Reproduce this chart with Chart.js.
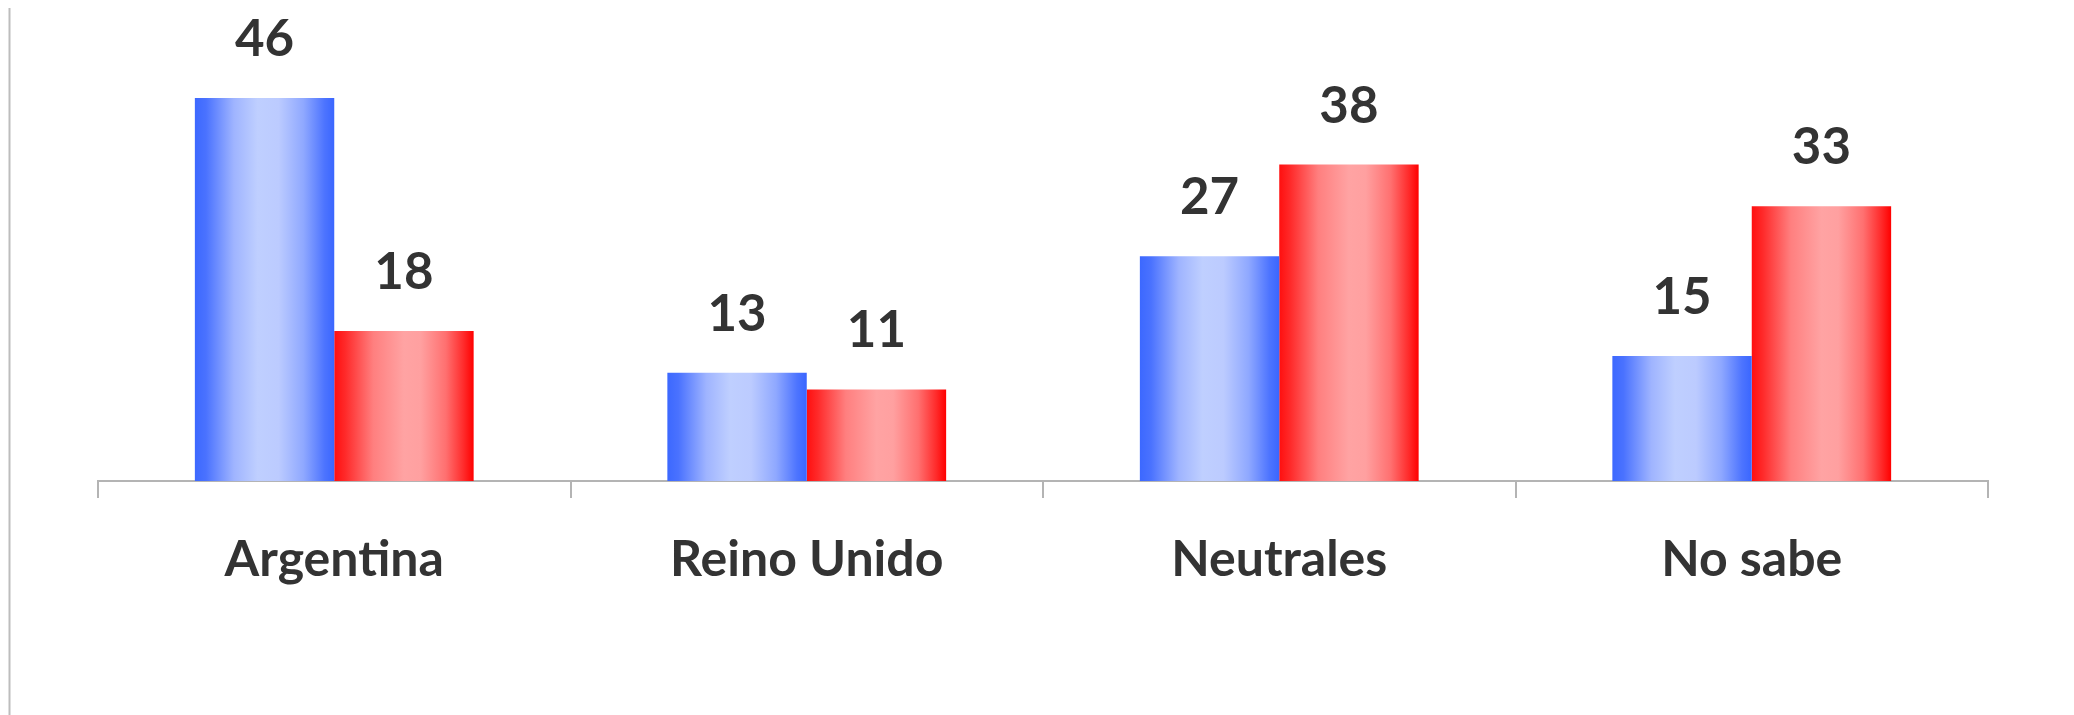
<!DOCTYPE html>
<html>
<head>
<meta charset="utf-8">
<script src="https://cdn.jsdelivr.net/npm/chart.js@4"></script>
<style>
  html, body { margin: 0; padding: 0; background: #ffffff; }
  #wrap { width: 2074px; height: 715px; }
</style>
</head>
<body>
<div id="wrap"><canvas id="chart" width="2074" height="715"></canvas></div>
<script>
// Data
const categories = ['Argentina', 'Reino Unido', 'Neutrales', 'No sabe'];
const blueValues = [46, 13, 27, 15];
const redValues = [18, 11, 38, 33];

const catPct = 0.59;
const textColor = '#333333';
const fontFamily = 'Lato, "Open Sans", sans-serif';

// horizontal "cylinder" gradient across each bar
function barGradient(stops) {
    return function(ctx) {
        const chart = ctx.chart;
        const x = chart.scales && chart.scales.x;
        if (!x || ctx.dataIndex === undefined) return stops[0][1];
        const center = x.getPixelForValue(ctx.dataIndex);
        const total = (x.width / categories.length) * catPct;
        const barW = total / 2;
        const left = center - total / 2 + ctx.datasetIndex * barW;
        if (!isFinite(left) || !isFinite(barW) || barW <= 0) return stops[0][1];
        const g = chart.ctx.createLinearGradient(left, 0, left + barW, 0);
        stops.forEach(s => g.addColorStop(s[0], s[1]));
        return g;
    };
}

const blueStops = [[0, '#3c68ff'], [0.08, '#4a72ff'], [0.28, '#9fb4ff'], [0.45, '#bfcfff'], [0.6, '#bccbff'], [0.78, '#8fa8ff'], [0.93, '#4d74ff'], [1, '#3a66ff']];
const redStops = [[0, '#ff0f0f'], [0.08, '#ff2a2a'], [0.28, '#ff7f7f'], [0.5, '#ffa3a3'], [0.62, '#ffa0a0'], [0.8, '#ff7070'], [0.93, '#ff2a2a'], [1, '#ff0000']];

const valueLabels = {
    id: 'valueLabels',
    afterDatasetsDraw(chart) {
        const c = chart.ctx;
        c.save();
        c.fillStyle = textColor;
        c.font = 'bold 51px ' + fontFamily;
        c.textAlign = 'center';
        c.textBaseline = 'alphabetic';
        chart.data.datasets.forEach((ds, di) => {
            chart.getDatasetMeta(di).data.forEach((el, i) => {
                c.fillText(String(ds.data[i]), el.x, el.y - 42);
            });
        });
        c.restore();
    }
};

const frameLine = {
    id: 'frameLine',
    beforeDraw(chart) {
        const c = chart.ctx;
        c.save();
        c.fillStyle = '#ffffff';
        c.fillRect(0, 0, chart.width, chart.height);
        c.strokeStyle = '#bdbdbd';
        c.lineWidth = 2;
        c.beginPath();
        c.moveTo(9.5, 8);
        c.lineTo(9.5, chart.height);
        c.stroke();
        c.restore();
    }
};

new Chart(document.getElementById('chart'), {
    type: 'bar',
    data: {
        labels: categories,
        datasets: [{
            label: 'Azul',
            data: blueValues,
            backgroundColor: barGradient(blueStops),
            borderWidth: 0
        }, {
            label: 'Rojo',
            data: redValues,
            backgroundColor: barGradient(redStops),
            borderWidth: 0
        }]
    },
    options: {
        responsive: false,
        animation: false,
        layout: {
            padding: { left: 98, right: 86, top: 23, bottom: 93 }
        },
        categoryPercentage: catPct,
        barPercentage: 1.0,
        plugins: {
            legend: { display: false },
            tooltip: { enabled: false }
        },
        scales: {
            y: {
                display: false,
                min: 0,
                max: 55
            },
            x: {
                border: { display: true, color: '#b4b4b4', width: 2 },
                grid: {
                    display: true,
                    drawOnChartArea: false,
                    drawTicks: true,
                    tickLength: 17,
                    color: '#b4b4b4',
                    lineWidth: 2
                },
                ticks: {
                    color: textColor,
                    padding: 32,
                    font: { family: fontFamily, size: 50, weight: 'bold' }
                }
            }
        }
    },
    plugins: [frameLine, valueLabels]
});
</script>
</body>
</html>
